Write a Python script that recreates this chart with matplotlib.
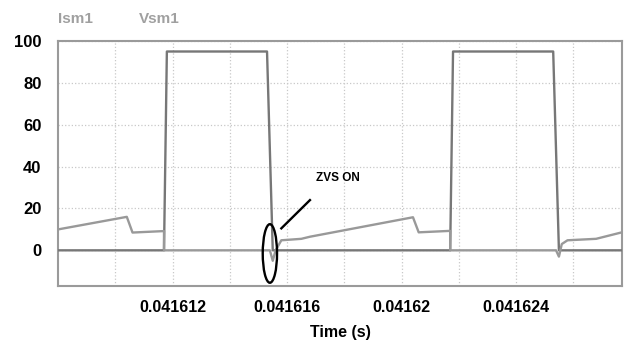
import matplotlib
matplotlib.use("Agg")
import matplotlib.pyplot as plt
from matplotlib.patches import Ellipse

plt.rcParams['font.family'] = ['Liberation Sans', 'DejaVu Sans']
plt.rcParams['font.weight'] = 'bold'

# Vsm1 switch voltage (V) - breakpoints
t_v = [0.041608, 0.0416117, 0.0416118, 0.0416153, 0.0416155,
       0.0416217, 0.0416218, 0.0416253, 0.0416255, 0.0416277]
v_sm1 = [0, 0, 95, 95, 0, 0, 95, 95, 0, 0]

# Ism1 switch current (A)
t_i = [0.041608, 0.0416104, 0.0416106, 0.0416117, 0.0416117, 0.0416154,
       0.0416155, 0.0416156, 0.0416158, 0.0416165, 0.0416168, 0.0416204,
       0.0416206, 0.0416217, 0.0416217, 0.0416254, 0.0416255, 0.0416256,
       0.0416258, 0.0416268, 0.0416277]
i_sm1 = [10.0, 16.0, 8.5, 9.2, 0, 0, -5, 0, 4.8, 5.5, 6.5, 15.8,
         8.6, 9.3, 0, 0, -3, 3, 4.8, 5.5, 8.6]

xticks = [0.041612, 0.041616, 0.04162, 0.041624]
xtick_labels = ['0.041612', '0.041616', '0.04162', '0.041624']
minor_xticks = [0.04161, 0.041614, 0.041618, 0.041622, 0.041626]
yticks = [0, 20, 40, 60, 80, 100]

fig = plt.figure(figsize=(6.25, 3.42), dpi=100)
ax = fig.add_axes([0.093, 0.164, 0.902, 0.716])

ax.plot(t_v, v_sm1, color='#777777', lw=1.7, zorder=3)
ax.plot(t_i, i_sm1, color='#999999', lw=1.7, zorder=3)

ax.set_xlim(0.041608, 0.0416277)
ax.set_ylim(-17, 100)
ax.set_xticks(xticks)
ax.set_xticklabels(xtick_labels)
ax.set_xticks(minor_xticks, minor=True)
ax.set_yticks(yticks)
ax.tick_params(which='both', length=0)
ax.tick_params(axis='y', pad=12, labelsize=12)
ax.tick_params(axis='x', pad=10, labelsize=11.5)
ax.grid(True, which='both', color='#c8c8c8', ls=':', lw=0.9)
for s in ax.spines.values():
    s.set_color('#9a9a9a')
    s.set_linewidth(1.5)

ax.set_xlabel('Time (s)', fontsize=11.5, fontweight='bold', labelpad=7)

# ZVS marker
ax.add_patch(Ellipse((0.0416154, -1.5), 0.5e-6, 28, fill=False,
                     ec='black', lw=1.7, zorder=4))
ax.plot([0.0416158, 0.0416168], [10.5, 24], color='black', lw=1.7, zorder=4)
ax.text(0.041617, 34.5, 'ZVS ON', fontsize=8.5, fontweight='bold',
        va='center', ha='left')

# legend labels
fig.text(58 / 625, 0.944, 'Ism1', color='#a0a0a0', fontsize=11,
         fontweight='bold', va='center')
fig.text(139 / 625, 0.944, 'Vsm1', color='#a0a0a0', fontsize=11,
         fontweight='bold', va='center')

fig.savefig('out.png', dpi=100)
